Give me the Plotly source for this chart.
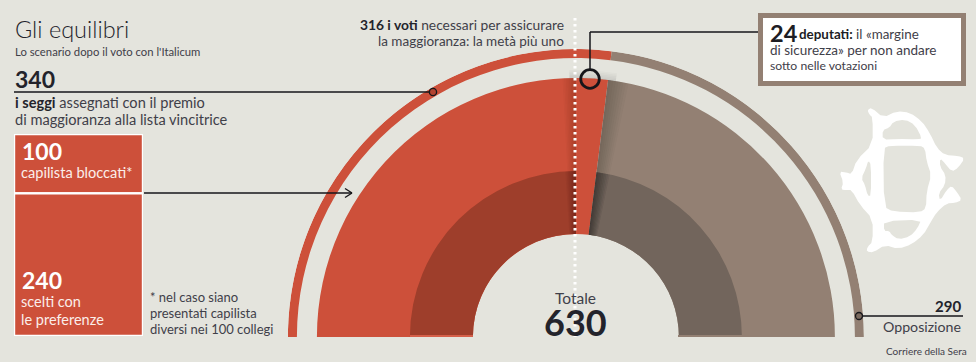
import plotly.graph_objects as go

W, H = 976, 362
# ---- data
total_seats = 630
majority_seats = 340
opposition_seats = 290
needed_votes = 316
margin_seats = 24
list_seats_labels = ["capilista bloccati", "scelti con le preferenze"]
list_seats = [100, 240]

BG = "#e4e4dd"
RED = "#cd503a"
DRED = "#9e3e2b"
BROWN = "#938073"
DBROWN = "#72655c"
INK = "#23232b"
SOFT = "#3f4049"
FONT = "Lato"

def X(p): return p / W
def Y(p): return 1 - p / H
deg = 180 / total_seats
R_OUT = 288

fig = go.Figure()

def band(start, end, r0, r1, color):
    fig.add_trace(go.Barpolar(
        theta=[(start + end) / 2 * deg], width=[(end - start) * deg],
        base=[r0], r=[r1 - r0], marker=dict(color=color, line=dict(width=0)),
        hoverinfo="skip", showlegend=False))

# outer ring
band(0, majority_seats, 279, 288, RED)
band(majority_seats, total_seats, 279, 288, BROWN)
# main band
band(0, majority_seats, 103, 259, RED)
band(majority_seats, total_seats, 103, 259, BROWN)
# inner dark band
band(0, needed_votes - 1, 103, 166, DRED)
band(majority_seats, total_seats, 103, 166, DBROWN)
# wedge shadows
for k in range(1, 9):
    band(majority_seats, majority_seats + 2.0 * k, 103, 259, "rgba(35,30,28,0.03)")
    band(majority_seats, majority_seats + 2.0 * k, 103, 166, "rgba(20,18,16,0.045)")
    band(needed_votes - 1 - 1.3 * k, needed_votes - 1, 166, 259, "rgba(60,20,10,0.025)")
    band(needed_votes - 1 - 1.6 * k, needed_votes - 1, 103, 166, "rgba(40,10,5,0.045)")
# soft shadow in the gap above the wedge
for k in range(1, 6):
    band(needed_votes - 6, majority_seats + 6, 259, 259 + k * 1.6, "rgba(60,55,50,0.022)")

# stacked list-seat boxes
base = 0
for v in list_seats:
    fig.add_trace(go.Bar(x=[0], y=[v], base=[base], width=[1],
                         marker=dict(color=RED, line=dict(color="white", width=2.4)),
                         cliponaxis=False, hoverinfo="skip", showlegend=False))
    base += v

shapes = []
def line(x0, y0, x1, y1, color="#16161a", w=1.4, dash=None):
    shapes.append(dict(type="line", xref="paper", yref="paper", x0=X(x0), y0=Y(y0), x1=X(x1), y1=Y(y1),
                       line=dict(color=color, width=w, dash=dash)))
def circle(cx, cy, r, w, fill="rgba(0,0,0,0)", color="#16161a"):
    shapes.append(dict(type="circle", xref="paper", yref="paper", x0=X(cx - r), x1=X(cx + r),
                       y0=Y(cy + r), y1=Y(cy - r), fillcolor=fill, line=dict(color=color, width=w)))
def rect(x0, y0, x1, y1, fill, color=None, w=0):
    shapes.append(dict(type="rect", xref="paper", yref="paper", x0=X(x0), x1=X(x1), y0=Y(y1), y1=Y(y0),
                       fillcolor=fill, line=dict(color=color or fill, width=w)))
def poly(pts, ox, oy, fill, smooth=2):
    pts = [(ox + a / 3, oy + b / 3) for a, b in pts]
    for _ in range(smooth):
        out = []
        for i, (a, b) in enumerate(pts):
            c, d = pts[(i + 1) % len(pts)]
            out += [(0.75 * a + 0.25 * c, 0.75 * b + 0.25 * d), (0.25 * a + 0.75 * c, 0.25 * b + 0.75 * d)]
        pts = out
    path = "M" + " L".join(f"{X(a):.5f},{Y(b):.5f}" for a, b in pts) + " Z"
    shapes.append(dict(type="path", xref="paper", yref="paper", path=path, fillcolor=fill, line=dict(width=0)))

# base strip under dark band
rect(410, 335, 473, 337, "#d5604a")
rect(678, 335, 742, 337, BROWN)

# monogram
poly([(112,45),(125,38),(160,68),(200,48),(240,53),(275,78),(300,115),(320,158),(345,180),(385,183),(404,190),
      (385,218),(365,230),(345,205),(330,190),(330,215),(347,240),(345,270),(326,295),(330,318),(350,285),(365,272),
      (380,290),(396,315),(375,324),(350,325),(320,352),(300,385),(280,420),(245,448),(205,462),(165,450),(130,472),
      (110,470),(112,456),(128,440),(128,372),(90,330),(65,285),(50,285),(33,284),(40,262),(28,230),(48,232),(65,238),
      (80,195),(128,148),(128,68),(118,58)], 830, 95, "white", 1)
poly([(160,160),(180,152),(270,152),(285,160),(290,200),(304,240),(290,290),(288,340),(270,352),(190,350),(162,335)], 830, 95, BG, 1)
poly([(158,134),(158,105),(178,98),(190,80),(225,73),(255,90),(276,130),(265,133),(200,132)], 830, 95, BG, 1)
poly([(162,378),(274,374),(262,400),(240,425),(205,433),(185,420),(178,408),(162,408)], 830, 95, BG, 1)
poly([(115,196),(123,210),(123,302),(113,302),(105,270),(94,250),(108,220)], 830, 95, BG, 1)

# leaders
line(14, 92, 429, 92)
circle(433, 92, 3.6, 1.3, fill="#b24330")
line(144, 193, 352, 193)
line(345, 188.5, 352, 193); line(345, 197.5, 352, 193)
line(590, 32, 590, 70, w=1.5)
line(590, 32, 758, 32, w=1.5)
circle(590, 79, 9.3, 2.8)
line(863, 316, 963, 316)
circle(859, 316, 3.5, 1.3, fill="#7a6a5f")
line(575, 18, 575, 337, color="white", w=3, dash="2.6px,3.4px")
rect(760.5, 15.5, 963.5, 83.5, "white", BROWN, 5)

ann = []
def txt(x, y, text, size, anchor="left", color=SOFT, family=FONT, weight=None):
    font = dict(family=family, size=size, color=color)
    if weight: font["weight"] = weight
    ann.append(dict(xref="paper", yref="paper", x=X(x), y=Y(y), xanchor=anchor, yanchor="middle",
                    text=text, showarrow=False, font=font, align=anchor))

txt(13, 29, "Gli equilibri", 23.5, color=INK, weight=300)
txt(13, 51.5, "Lo scenario dopo il voto con l'Italicum", 11.3, weight=400)
txt(13, 79, f"<b>{majority_seats}</b>", 23, color=INK)
txt(13, 102, "<b style='color:#23232b'>i seggi</b> assegnati con il premio", 14.6)
txt(13, 119, "di maggioranza alla lista vincitrice", 14.6)
txt(20, 151, f"<b>{list_seats[0]}</b>", 23, color="white")
txt(19, 172, "capilista bloccati*", 14.6, color="#fbeeea")
txt(20, 280, f"<b>{list_seats[1]}</b>", 23, color="white")
txt(19, 301, "scelti con", 14.5, color="#fbeeea")
txt(19, 319, "le preferenze", 14.5, color="#fbeeea")
txt(148, 297, "* nel caso siano", 13)
txt(148, 313, "presentati capilista", 13)
txt(148, 329, "diversi nei 100 collegi", 13)
txt(566, 25, f"<b style='color:#23232b'>{needed_votes} i voti</b> necessari per assicurare", 13.8, anchor="right")
txt(566, 41, "la maggioranza: la metà più uno", 13.5, anchor="right")
txt(768, 33, f"<b style='color:#1d1d24'>{margin_seats}</b>", 23.5)
txt(797, 34, "<b style='color:#1d1d24'>deputati:</b> il «margine", 13.4)
txt(768, 49.5, "di sicurezza» per non andare", 13.5)
txt(768, 66, "sotto nelle votazioni", 12.2)
txt(575, 298, "Totale", 15.5, anchor="center")
txt(575, 322, f"<b>{total_seats}</b>", 36, anchor="center", color=INK)
txt(963, 306, f"<b>{opposition_seats}</b>", 15, anchor="right", color=INK)
txt(963, 326, "Opposizione", 14.2, anchor="right")
txt(969, 351, "Corriere della Sera", 10, anchor="right")

fig.update_layout(
    width=W, height=H, autosize=False,
    margin=dict(l=0, r=0, t=0, b=0), paper_bgcolor=BG, plot_bgcolor="rgba(0,0,0,0)",
    barmode="overlay", showlegend=False,
    polar=dict(
        domain=dict(x=[X(575.9 - R_OUT), X(575.9 + R_OUT)], y=[Y(337), Y(337 - R_OUT)]),
        sector=[0, 180], bgcolor="rgba(0,0,0,0)", barmode="overlay", hole=0,
        angularaxis=dict(visible=False, direction="clockwise", rotation=180),
        radialaxis=dict(visible=False, range=[0, R_OUT]),
    ),
    xaxis=dict(domain=[X(14), X(143)], range=[-0.5, 0.5], visible=False, fixedrange=True),
    yaxis=dict(domain=[Y(336), Y(134)], range=[sum(list_seats), 0], visible=False, fixedrange=True),
    shapes=shapes, annotations=ann,
)
fig.write_html("out.html", config={"displayModeBar": False},
               post_script="document.documentElement.style.margin='0';document.body.style.margin='0';document.body.style.overflow='hidden';document.body.style.background='#e4e4dd';")
